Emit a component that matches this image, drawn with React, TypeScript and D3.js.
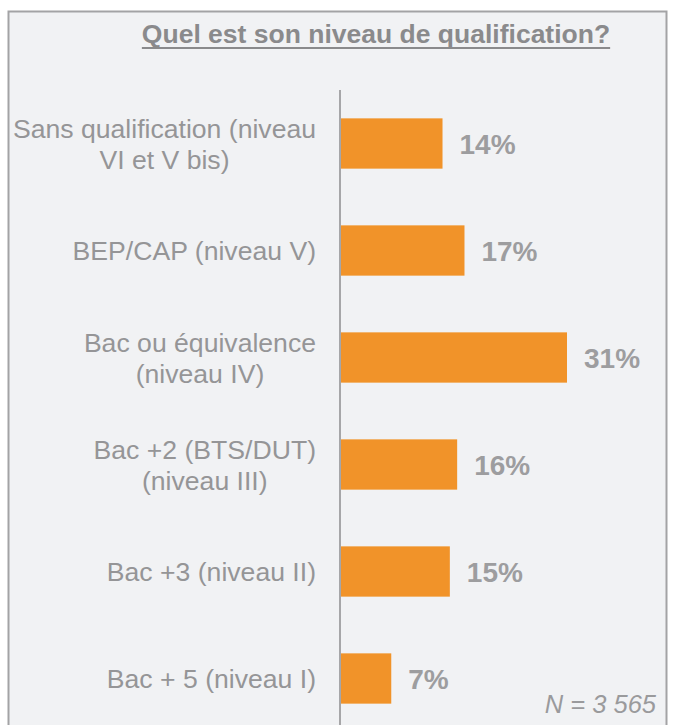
import * as d3 from 'd3'
import React, { useEffect, useRef } from 'react'

const categories: string[][] = [
  ['Sans qualification (niveau', 'VI et V bis)'],
  ['BEP/CAP (niveau V)'],
  ['Bac ou équivalence', '(niveau IV)'],
  ['Bac +2 (BTS/DUT)', '(niveau III)'],
  ['Bac +3 (niveau II)'],
  ['Bac + 5 (niveau I)'],
]
const values = [14, 17, 31, 16, 15, 7]
const title = 'Quel est son niveau de qualification?'
const footnote = 'N = 3 565'

const width = 673
const height = 725

const App = () => {
  const ref = useRef<SVGSVGElement>(null)

  useEffect(() => {
    const svg = d3.select(ref.current)
    svg.selectAll('*').remove()

    const font = 'Liberation Sans, Arial, sans-serif'
    const axisX = 340

    // Frame
    svg
      .append('rect')
      .attr('x', 8.5)
      .attr('y', 11.5)
      .attr('width', 658)
      .attr('height', 730)
      .attr('fill', '#f1f2f4')
      .attr('stroke', '#a3a3a5')
      .attr('stroke-width', 2)

    // Title with a drawn underline (thicker than the font's own)
    const titleText = svg
      .append('text')
      .attr('x', 376)
      .attr('y', 43)
      .attr('text-anchor', 'middle')
      .attr('font-family', font)
      .attr('font-weight', 'bold')
      .attr('font-size', 26.5)
      .attr('fill', '#8a8a8c')
      .text(title)
    const tw = (titleText.node() as SVGTextElement).getComputedTextLength()
    svg
      .append('line')
      .attr('x1', 376 - tw / 2)
      .attr('x2', 376 + tw / 2)
      .attr('y1', 48)
      .attr('y2', 48)
      .attr('stroke', '#8a8a8c')
      .attr('stroke-width', 2.2)

    const idx = values.map((_, i) => String(i))
    const y = d3
      .scaleBand()
      .domain(idx)
      .range([90, 90 + 107 * values.length])
      .paddingInner(0.53)
      .paddingOuter(0.265)
    const x = d3.scaleLinear().domain([0, 31]).range([axisX, axisX + 227])

    // Bars
    svg
      .append('g')
      .selectAll('rect')
      .data(values)
      .join('rect')
      .attr('x', axisX)
      .attr('y', (_, i) => y(String(i))!)
      .attr('width', (d) => x(d) - axisX)
      .attr('height', y.bandwidth())
      .attr('fill', '#f19329')

    // Value labels
    svg
      .append('g')
      .selectAll('text')
      .data(values)
      .join('text')
      .attr('x', (d) => x(d) + 17)
      .attr('y', (_, i) => y(String(i))! + y.bandwidth() / 2 + 10)
      .attr('font-family', font)
      .attr('font-weight', 'bold')
      .attr('font-size', 28)
      .attr('fill', '#9d9d9f')
      .text((d) => `${d}%`)

    // Category labels: centred lines, block right-aligned against the axis
    const labels = svg.append('g')
    categories.forEach((lines, i) => {
      const cy = y(String(i))! + y.bandwidth() / 2
      const g = labels.append('g')
      const texts = lines.map((line, j) =>
        g
          .append('text')
          .attr('y', cy + 9.5 + (j - (lines.length - 1) / 2) * 31)
          .attr('text-anchor', 'middle')
          .attr('font-family', font)
          .attr('font-size', 26.6)
          .attr('fill', '#959597')
          .text(line)
      )
      const maxW = d3.max(texts, (t) => (t.node() as SVGTextElement).getComputedTextLength()) || 0
      texts.forEach((t) => t.attr('x', 316 - maxW / 2))
    })

    // Axis line
    svg
      .append('line')
      .attr('x1', axisX)
      .attr('x2', axisX)
      .attr('y1', 90)
      .attr('y2', height)
      .attr('stroke', '#a6a6a8')
      .attr('stroke-width', 2)

    // Footnote
    svg
      .append('text')
      .attr('x', 656)
      .attr('y', 713)
      .attr('text-anchor', 'end')
      .attr('font-family', font)
      .attr('font-style', 'italic')
      .attr('font-size', 25.5)
      .attr('fill', '#9a9a9c')
      .text(footnote)
  }, [])

  return (
    <svg
      ref={ref}
      width={width}
      height={height}
      style={{ position: 'absolute', left: 0, top: 0, background: '#fff' }}
    />
  )
}

export default App
